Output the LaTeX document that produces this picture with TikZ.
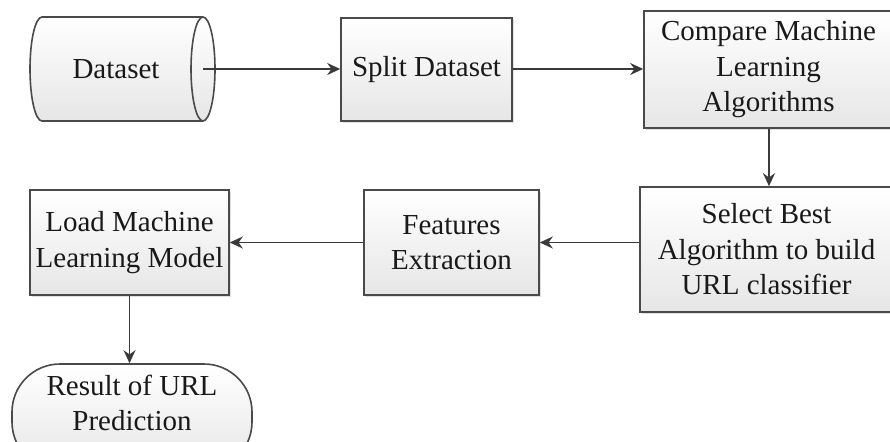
\documentclass[tikz,border=0pt]{standalone}
\usepackage{fontspec}
\setmainfont{Liberation Serif}
\newfontfamily\tnr{Liberation Serif}
\usetikzlibrary{arrows.meta,shadows}
\definecolor{edge}{HTML}{4A4A4A}
\definecolor{arrowc}{HTML}{3A3A3A}
\definecolor{shadeb}{HTML}{E6E6E6}
\tikzset{
  txt/.style={align=center, inner sep=0pt, font=\tnr\fontsize{29}{35.5}\selectfont, text=black!90},
  box/.style={txt, draw=edge, line width=1.6pt, top color=white, bottom color=shadeb,
    drop shadow={shadow xshift=1.5pt, shadow yshift=-1.5pt, opacity=0.12, fill=black}},
  shapeonly/.style={draw=edge, line width=1.6pt, top color=white, bottom color=shadeb},
  flow/.style={draw=arrowc, line width=1.6pt, -{Stealth[length=13pt, width=12pt]}},
}
\begin{document}
\begin{tikzpicture}[x=1pt, y=1pt]
\useasboundingbox (0,0) rectangle (890,-441);
% Dataset cylinder
\path[shapeonly] (203,-17) -- (42,-17) arc[start angle=90, end angle=270, x radius=12pt, y radius=52pt]
  -- (203,-121) arc[start angle=-90, end angle=90, x radius=12pt, y radius=52pt] -- cycle;
\draw[draw=edge, line width=1.6pt] (203,-17) arc[start angle=90, end angle=270, x radius=12pt, y radius=52pt];
\node[txt] (dataset) at (116,-69) {Dataset};
\coordinate (dsend) at (203,-69);
% Boxes
\node[box, minimum width=171pt, minimum height=103pt] (split) at (426.5,-69.5) {Split Dataset};
\node[box, minimum width=249pt, minimum height=117pt] (compare) at (768.5,-69.5) {Compare Machine\\Learning\\Algorithms};
\node[box, minimum width=253pt, minimum height=125pt] (select) at (766.5,-249.5) {Select Best\\Algorithm to build\\URL classifier};
\node[box, minimum width=175pt, minimum height=105pt] (features) at (451.5,-242.5) {Features\\Extraction};
\node[box, minimum width=199pt, minimum height=105pt] (load) at (129.5,-242.5) {Load Machine\\Learning Model};
% Result terminal
\node[draw=edge, line width=1.6pt, top color=white, bottom color=shadeb, rounded corners=48pt,
  minimum width=240pt, minimum height=106pt, inner sep=0pt] (result) at (132,-417) {};
\node[txt] (resulttxt) at (132,-403) {Result of URL\\Prediction};
% Connectors
\draw[flow] (dsend) -- (split.west |- dsend);
\draw[flow] (split.east |- dsend) -- (compare.west |- dsend);
\draw[flow] ([xshift=0.5pt]compare.south) -- ([xshift=0.5pt]compare.south |- select.north);
\draw[flow] (select.west |- features.east) -- (features.east);
\draw[flow] (features.west) -- (load.east);
\draw[flow] (load.south) -- (load.south |- result.north);
\end{tikzpicture}
\end{document}
